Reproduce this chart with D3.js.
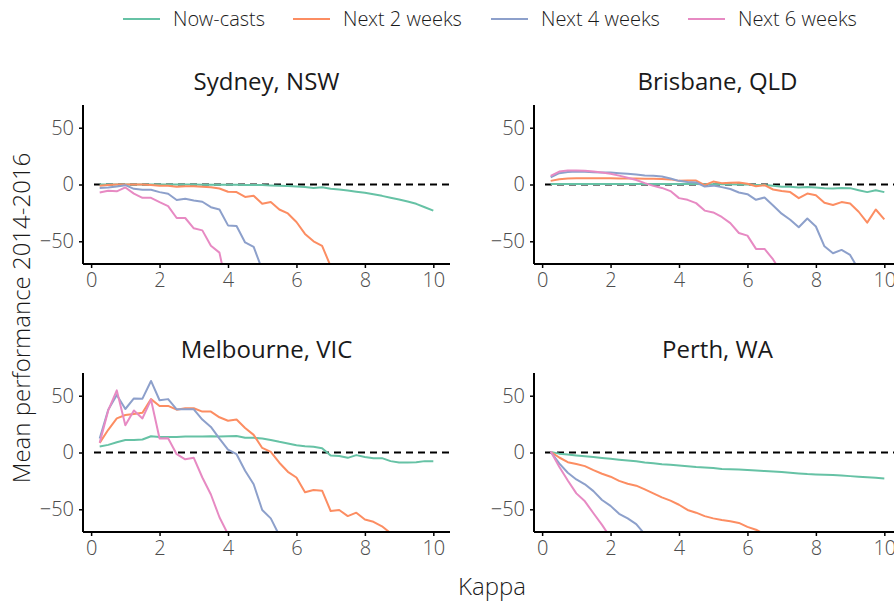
<!DOCTYPE html>
<html>
<head>
<meta charset="utf-8">
<script src="https://cdn.jsdelivr.net/npm/d3@7"></script>
<style>
  body { margin: 0; background: #fff; }
  svg { display: block; font-family: "Open Sans", sans-serif; }
  .light { font-family: "Open Sans Light", "Open Sans", sans-serif; font-weight: 300; }
</style>
</head>
<body>
<div id="chart"></div>
<script>
var width = 894;
var height = 601;

var kappa = [0.25, 0.5, 0.75, 1, 1.25, 1.5, 1.75, 2, 2.25, 2.5, 2.75, 3, 3.25, 3.5, 3.75, 4,
    4.25, 4.5, 4.75, 5, 5.25, 5.5, 5.75, 6, 6.25, 6.5, 6.75, 7, 7.25, 7.5, 7.75, 8,
    8.25, 8.5, 8.75, 9, 9.25, 9.5, 9.75, 10];

var seriesNames = ["Now-casts", "Next 2 weeks", "Next 4 weeks", "Next 6 weeks"];
var seriesColors = ["#66c2a5", "#fc8d62", "#8da0cb", "#e78ac3"];
var cities = ["Sydney, NSW", "Brisbane, QLD", "Melbourne, VIC", "Perth, WA"];

var xTicks = [0, 2, 4, 6, 8, 10];
var yTicks = [-50, 0, 50];

// Sydney
var sydNow = [0, 0, 0, 0, 0, 0, 0, 0, 0, 0, 0, 0, -0.2, -0.2, -0.3, -0.3, -0.3, -0.4, -0.5, -0.5,
    -0.8, -1, -1.3, -1.8, -2.3, -3, -2.4, -3.8, -4.3, -5.3, -6.3, -7.3, -8.6, -10, -11.6, -13.2,
    -15, -17, -20, -23];
var sydNext2 = [-1, -0.5, 0, 0, 0, 0, -0.5, -1, -1, -2, -1.5, -1.5, -2, -2.5, -3.5, -6.4, -6.7,
    -11, -10, -17, -15.5, -22, -25.5, -33, -43.5, -50, -54, -72];
var sydNext4 = [-3, -2.6, -1.8, -0.6, -3.8, -4.7, -4.7, -6.7, -8.2, -13.7, -12.6, -14, -15.2, -20,
    -22, -36, -36.5, -51, -55, -75];
var sydNext6 = [-7, -5.5, -6, -2.6, -8, -11.7, -11.7, -15.5, -19, -29.5, -29.5, -38.6, -40.4, -54,
    -60, -95];

// Brisbane
var brisNow = [0.5, 0.5, 0.5, 0.5, 0.5, 0.5, 0.5, 0.5, 0.5, 0.5, 0.5, 0.5, 0.5, 0.5, 0.5, 0.5, 0.5,
    0.5, 0.3, 0.3, 0.2, 0.2, 0, 0, -0.5, -0.5, -1, -2, -2, -2.6, -2.3, -2.6, -3.2, -3.5, -3, -3.2,
    -5, -6.7, -5, -6.7];
var brisNext2 = [3.2, 4.7, 5.3, 5.5, 5.5, 5.5, 5.5, 5.5, 5.3, 5.3, 5.2, 5, 5, 4.8, 4.5, 3.2, 3.5,
    3.5, -0.6, 2.6, 1.2, 1.5, 1.8, 0.6, -1.5, -0.6, -4.4, -5.8, -6.7, -12, -8, -9.4, -16, -18,
    -15.5, -16.7, -24, -33.6, -22, -30.7];
var brisNext4 = [6.4, 10, 11, 11.4, 11.2, 10.8, 10.6, 10.5, 10, 9.4, 8.7, 8, 7.6, 7, 5.3, 3.2, 2.3,
    1.8, -1.8, -1, -2.3, -4, -7, -8.5, -13.5, -11.4, -18.4, -25.7, -31, -37.7, -30, -37, -54.4,
    -60.5, -57.6, -62, -75];
var brisNext6 = [7.6, 11.4, 12.3, 12.3, 12, 11.4, 10.5, 9.4, 7.8, 6, 4, 1.2, -1.2, -3, -5.8, -12,
    -13.5, -16.4, -23, -24.6, -28.6, -34, -42.7, -45, -56.7, -56.7, -66, -78];

// Melbourne
var melNow = [5.3, 6.7, 9, 11, 11, 11.4, 14.3, 13.7, 13.7, 13.7, 14, 14, 14, 14.3, 14, 14.3, 14.6,
    13, 12.9, 12.3, 11, 9.4, 8, 6.4, 5.6, 5, 3.8, -2.6, -3, -4.7, -2.3, -4, -5, -5, -7.6, -8.8,
    -8.8, -8.5, -7.6, -7.6];
var melNext2 = [8.5, 20, 30, 33, 34, 35, 47, 41, 41, 37.7, 39, 39, 36, 36, 31, 28, 29, 21.5, 15.5,
    4, 0.5, -9, -17, -22, -35, -33, -33.6, -51.5, -50.6, -56, -53, -59, -61, -65, -71, -71, -71, -78];
var melNext4 = [12.3, 37.7, 50.6, 38.3, 47.6, 47.4, 63, 46, 47, 38, 38, 38, 29, 22.5, 12.3, 2.6,
    -1.5, -16, -28, -50.6, -58, -73];
var melNext6 = [8.5, 37, 54.7, 24, 37, 30, 46.5, 12.3, 12.6, -1.5, -6, -4.7, -22, -37, -57, -72];

// Perth
var perNow = [0.5, -1, -1.8, -2.6, -3.3, -4, -4.8, -5.5, -6.3, -7, -7.8, -8.8, -9.5, -10.4, -10.8,
    -11.4, -12, -12.7, -13.2, -13.7, -14.6, -14.8, -15, -15.5, -15.9, -16.3, -16.7, -17.2, -17.8,
    -18.4, -19, -19.3, -19.5, -19.8, -20.2, -20.8, -21.3, -21.7, -22.2, -22.8];
var perNext2 = [0.5, -4.4, -8.5, -10.2, -12, -15.5, -18.7, -21.3, -25, -27.5, -29.2, -32.5, -36,
    -39.5, -42.4, -46, -50.6, -53, -56, -58, -59.4, -60.5, -62, -65.5, -68, -72];
var perNext4 = [0.5, -9.6, -17.8, -23.7, -28, -34, -41.8, -47, -54, -58, -63, -72];
var perNext6 = [1, -12.6, -24.6, -36, -43, -53.5, -63.7, -75];

var panelSeries = [
    [sydNow, sydNext2, sydNext4, sydNext6],
    [brisNow, brisNext2, brisNext4, brisNext6],
    [melNow, melNext2, melNext4, melNext6],
    [perNow, perNext2, perNext4, perNext6]
];

// panel layout
var colLeft = [83, 534];
var rowTop = [105, 373];
var panelW = 367;
var panelH = 159;

var svg = d3.select("#chart").append("svg")
    .attr("width", width)
    .attr("height", height);

// legend
var legendX = [123, 293, 491, 688];
var legend = svg.append("g").attr("transform", "translate(0,19)");
seriesNames.forEach(function (name, i) {
    legend.append("line")
        .attr("x1", legendX[i]).attr("x2", legendX[i] + 37)
        .attr("y1", 0).attr("y2", 0)
        .attr("stroke", seriesColors[i])
        .attr("stroke-width", 2);
    legend.append("text")
        .attr("class", "light")
        .attr("x", legendX[i] + 50)
        .attr("y", 0)
        .attr("dy", "0.35em")
        .attr("font-size", 20)
        .attr("fill", "#1a1a1a")
        .text(name);
});

cities.forEach(function (city, p) {
    var col = p % 2, row = Math.floor(p / 2);
    var x0 = colLeft[col], y0 = rowTop[row];

    var x = d3.scaleLinear().domain([-0.2375, 10.4875]).range([x0, x0 + panelW]);
    var y = d3.scaleLinear().domain([-70, 70]).range([y0 + panelH, y0]);

    var g = svg.append("g");

    var clipId = "clip" + p;
    g.append("clipPath").attr("id", clipId)
        .append("rect")
        .attr("x", x0).attr("y", y0)
        .attr("width", panelW).attr("height", panelH);

    // zero reference
    g.append("line")
        .attr("x1", x0 + 11).attr("x2", x0 + panelW)
        .attr("y1", y(0)).attr("y2", y(0))
        .attr("stroke", "#000")
        .attr("stroke-width", 2)
        .attr("stroke-dasharray", "7,5");

    var line = d3.line()
        .x(function (d, i) { return x(kappa[i]); })
        .y(function (d) { return y(d); });

    var lines = g.append("g").attr("clip-path", "url(#" + clipId + ")");
    panelSeries[p].forEach(function (vals, s) {
        lines.append("path")
            .datum(vals)
            .attr("fill", "none")
            .attr("stroke", seriesColors[s])
            .attr("stroke-width", 2)
            .attr("stroke-linejoin", "round")
            .attr("d", line);
    });

    var xAxis = g.append("g")
        .attr("transform", "translate(0," + (y0 + panelH) + ")")
        .call(d3.axisBottom(x).tickValues(xTicks).tickSize(4).tickPadding(5));
    var yAxis = g.append("g")
        .attr("transform", "translate(" + x0 + ",0)")
        .call(d3.axisLeft(y).tickValues(yTicks).tickSize(4).tickPadding(5));

    [xAxis, yAxis].forEach(function (a) {
        a.select(".domain").attr("stroke", "#000").attr("stroke-width", 2)
            .attr("d", a === xAxis ? "M" + x0 + ",0H" + (x0 + panelW) : "M0," + y0 + "V" + (y0 + panelH));
        a.selectAll(".tick line").attr("stroke", "#000").attr("stroke-width", 1.5);
        a.selectAll(".tick text")
            .attr("class", "light")
            .attr("font-size", 20)
            .attr("fill", "#4d4d4d");
    });

    g.append("text")
        .attr("x", x0 + panelW / 2)
        .attr("y", y0 - 15)
        .attr("text-anchor", "middle")
        .attr("font-size", 24)
        .attr("fill", "#1a1a1a")
        .text(city);
});

svg.append("text")
    .attr("class", "light")
    .attr("transform", "translate(22," + 318 + ") rotate(-90)")
    .attr("text-anchor", "middle")
    .attr("dy", "0.35em")
    .attr("font-size", 24)
    .attr("fill", "#1a1a1a")
    .text("Mean performance 2014-2016");

svg.append("text")
    .attr("class", "light")
    .attr("x", (colLeft[0] + colLeft[1] + panelW) / 2)
    .attr("y", 587)
    .attr("dy", "0.35em")
    .attr("text-anchor", "middle")
    .attr("font-size", 24)
    .attr("fill", "#1a1a1a")
    .text("Kappa");
</script>
</body>
</html>
